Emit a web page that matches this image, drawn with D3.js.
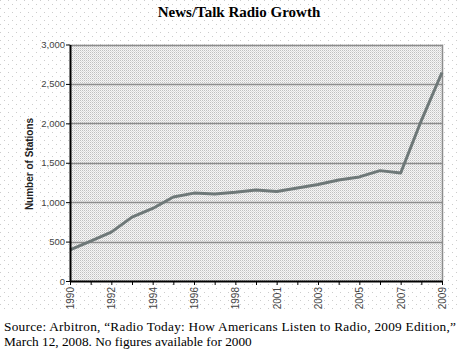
<!DOCTYPE html>
<html>
<head>
<meta charset="utf-8">
<script src="https://cdn.jsdelivr.net/npm/d3@7"></script>
<style>
  body { margin: 0; background: #fff; }
  svg { display: block; }
</style>
</head>
<body>
<svg id="chart"></svg>
<script>
const width = 458;
const height = 360;
const margin = {top: 44.5, right: 16, bottom: 79, left: 70};

// no figure for 2000
const years = ['1990', '1991', '1992', '1993', '1994', '1995', '1996', '1997', '1998', '1999',
    '2001', '2002', '2003', '2004', '2005', '2006', '2007', '2008', '2009'];
const stations = [395, 505, 620, 810, 920, 1065, 1115, 1105, 1125, 1155,
    1135, 1180, 1225, 1280, 1320, 1400, 1370, 2035, 2645];
const yTicks = [0, 500, 1000, 1500, 2000, 2500, 3000];
const xLabels = ['1990', '1992', '1994', '1996', '1998', '2001', '2003', '2005', '2007', '2009'];

const svg = d3.select('#chart')
    .attr('width', width)
    .attr('height', height);

const defs = svg.append('defs');

// sparse dots on the page background
const bgPat = defs.append('pattern')
    .attr('id', 'bg-dots')
    .attr('width', 8).attr('height', 8)
    .attr('patternUnits', 'userSpaceOnUse');
bgPat.append('rect').attr('width', 8).attr('height', 8).attr('fill', '#fff');
bgPat.append('rect').attr('x', 0).attr('y', 0).attr('width', 1).attr('height', 1).attr('fill', '#cccccc');
bgPat.append('rect').attr('x', 4).attr('y', 4).attr('width', 1).attr('height', 1).attr('fill', '#cccccc');

// dense halftone in the plot area
const plotPat = defs.append('pattern')
    .attr('id', 'plot-dots')
    .attr('width', 2).attr('height', 2)
    .attr('patternUnits', 'userSpaceOnUse');
plotPat.append('rect').attr('width', 2).attr('height', 2).attr('fill', '#f6f6f6');
plotPat.append('rect').attr('x', 0).attr('y', 0).attr('width', 1).attr('height', 1).attr('fill', '#c0c0c0');
plotPat.append('rect').attr('x', 1).attr('y', 1).attr('width', 1).attr('height', 1).attr('fill', '#dcdcdc');

svg.append('rect')
    .attr('width', width)
    .attr('height', 312)
    .attr('fill', 'url(#bg-dots)');

const x = d3.scalePoint()
    .domain(years)
    .range([margin.left, width - margin.right]);

const y = d3.scaleLinear()
    .domain([0, 3000])
    .range([height - margin.bottom, margin.top]);

svg.append('rect')
    .attr('x', margin.left)
    .attr('y', y(3000))
    .attr('width', x.range()[1] - margin.left)
    .attr('height', y(0) - y(3000))
    .attr('fill', 'url(#plot-dots)');

// gridlines
svg.append('g')
    .selectAll('line')
    .data(yTicks.filter(d => d > 0))
    .enter()
    .append('line')
    .attr('x1', margin.left)
    .attr('x2', x.range()[1])
    .attr('y1', d => Math.round(y(d)) + 0.5)
    .attr('y2', d => Math.round(y(d)) + 0.5)
    .attr('stroke', '#8c8c8c')
    .attr('stroke-width', 1.5);

// right border
svg.append('line')
    .attr('x1', x.range()[1] + 0.5)
    .attr('x2', x.range()[1] + 0.5)
    .attr('y1', y(3000))
    .attr('y2', y(0))
    .attr('stroke', '#8c8c8c')
    .attr('stroke-width', 1.5);

// line
svg.append('path')
    .datum(stations)
    .attr('fill', 'none')
    .attr('stroke', '#6e7878')
    .attr('stroke-width', 3)
    .attr('stroke-linejoin', 'round')
    .attr('d', d3.line()
        .x((d, i) => x(years[i]))
        .y(d => y(d)));

// y axis
const yAxis = svg.append('g')
    .attr('transform', `translate(${margin.left}, 0)`)
    .call(d3.axisLeft(y).tickValues(yTicks).tickSize(4).tickSizeOuter(0).tickFormat(d3.format(',')));
yAxis.select('.domain').attr('stroke', '#000').attr('stroke-width', 2);
yAxis.selectAll('line').attr('stroke', '#000');
yAxis.selectAll('text')
    .attr('font-family', 'Liberation Sans, Arial, sans-serif')
    .attr('font-size', 9.5)
    .attr('fill', '#444')
    .attr('x', -5);

// x axis
const xAxis = svg.append('g')
    .attr('transform', `translate(0, ${y(0)})`)
    .call(d3.axisBottom(x).tickSize(4).tickSizeOuter(0)
        .tickFormat(d => xLabels.includes(d) ? d : ''));
xAxis.select('.domain').attr('stroke', '#000').attr('stroke-width', 2);
xAxis.selectAll('line').attr('stroke', '#000');
xAxis.selectAll('text')
    .attr('font-family', 'Liberation Sans, Arial, sans-serif')
    .attr('font-size', 10)
    .attr('fill', '#444')
    .attr('transform', 'rotate(-90)')
    .attr('text-anchor', 'end')
    .attr('x', -6)
    .attr('y', 0)
    .attr('dy', '0.35em');

// y axis title
svg.append('text')
    .attr('transform', `translate(33, 164) rotate(-90)`)
    .attr('text-anchor', 'middle')
    .attr('font-family', 'Liberation Sans, Arial, sans-serif')
    .attr('font-weight', 'bold')
    .attr('font-size', 10)
    .attr('fill', '#222')
    .text('Number of Stations');

// title
svg.append('text')
    .attr('x', 239)
    .attr('y', 17)
    .attr('text-anchor', 'middle')
    .attr('font-family', 'Liberation Serif, Times New Roman, serif')
    .attr('font-weight', 'bold')
    .attr('font-size', 15)
    .text('News/Talk Radio Growth');

// source note
const source = svg.append('text')
    .attr('font-family', 'Liberation Serif, Times New Roman, serif')
    .attr('font-size', 13.3)
    .attr('fill', '#000');
source.append('tspan')
    .attr('x', 4)
    .attr('y', 331)
    .attr('textLength', 452)
    .attr('lengthAdjust', 'spacing')
    .text('Source: Arbitron, \u201cRadio Today: How Americans Listen to Radio, 2009 Edition,\u201d');
source.append('tspan')
    .attr('x', 4)
    .attr('y', 346)
    .text('March 12, 2008.  No figures available for 2000');
</script>
</body>
</html>
